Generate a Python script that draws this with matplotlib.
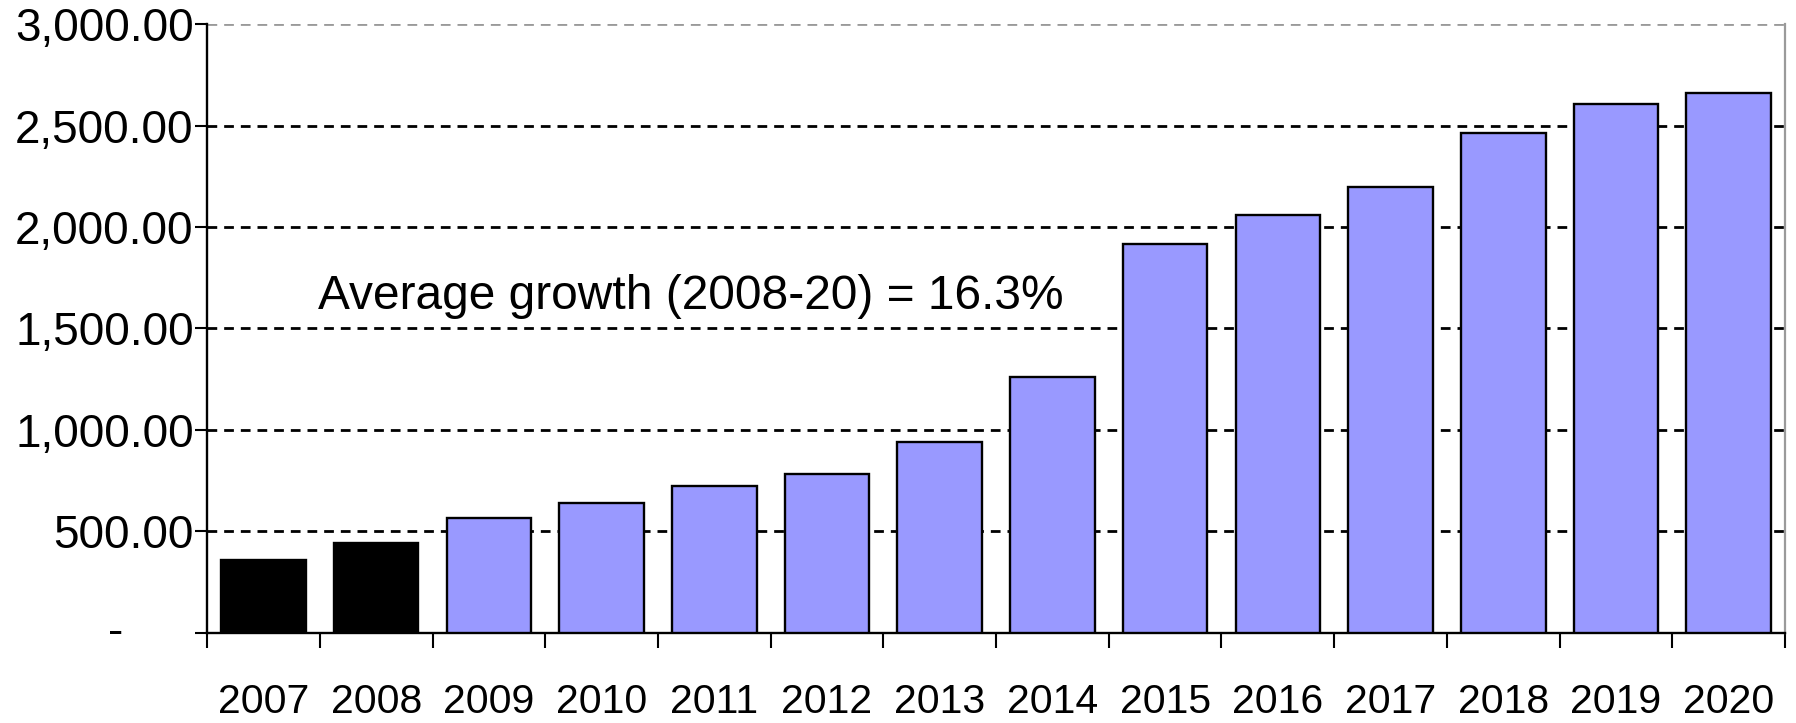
import matplotlib.pyplot as plt
import matplotlib.transforms as mtransforms
import numpy as np

years = ["2007", "2008", "2009", "2010", "2011", "2012", "2013",
         "2014", "2015", "2016", "2017", "2018", "2019", "2020"]
values = [358, 443, 567, 640, 725, 783, 940,
          1261, 1916, 2059, 2197, 2463, 2606, 2660]
bar_colors = ["black", "black"] + ["#9999ff"] * 12
y_ticks = [0, 500, 1000, 1500, 2000, 2500, 3000]
note = "Average growth (2008-20) = 16.3%"

fam = ["Liberation Sans", "DejaVu Sans"]

fig = plt.figure(figsize=(17.96, 7.23), dpi=100)
ax = fig.add_axes([0.1153, 0.1245, 0.9939 - 0.1153, 0.9668 - 0.1245])

x = np.arange(len(years))
ax.bar(x, values, width=0.75, color=bar_colors, edgecolor="black", linewidth=1.7, zorder=3)

ax.set_xlim(-0.5, len(years) - 0.5)
ax.set_ylim(0, 3000)

# y axis
ax.set_yticks(y_ticks)
ax.set_yticklabels([""] + ["{:,.2f}".format(v) for v in y_ticks[1:]], family=fam, fontsize=33)
ax.tick_params(axis="y", direction="out", length=8.6, width=1.5, pad=1)
ax.text(-0.058, 0, "-", transform=mtransforms.blended_transform_factory(ax.transAxes, ax.transData),
        ha="center", va="center", fontsize=33, family=fam)

# x axis: labels at centres, ticks at boundaries
ax.set_xticks(x)
ax.set_xticklabels(years, family=fam, fontsize=29.5)
ax.tick_params(axis="x", which="major", length=0, pad=36)
ax.set_xticks(np.arange(-0.5, len(years), 1.0), minor=True)
ax.tick_params(axis="x", which="minor", direction="out", length=10.8, width=1.5)

ax.set_axisbelow(True)
ax.yaxis.grid(True, color="black", linestyle=(0, (3.5, 2.5)), linewidth=2.0)
ax.get_ygridlines()[-1].set_color("#9a9a9a")

for s in ["left", "bottom"]:
    ax.spines[s].set_linewidth(1.7)
ax.spines["top"].set_visible(False)
ax.spines["right"].set_color("#9a9a9a")
ax.spines["right"].set_linewidth(1.6)

ax.text(0.070, 1660, note, transform=mtransforms.blended_transform_factory(ax.transAxes, ax.transData),
        fontsize=34.5, family=fam, va="center", ha="left")

fig.savefig("out.png", dpi=100)
